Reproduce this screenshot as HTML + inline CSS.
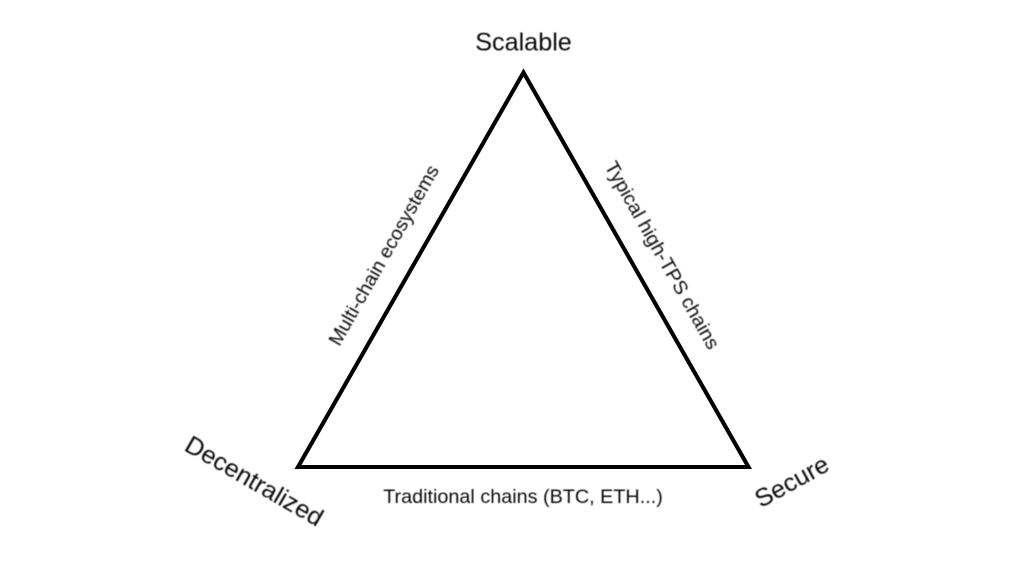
<!DOCTYPE html>
<html>
<head>
<meta charset="utf-8">
<style>
html,body{margin:0;padding:0;background:#fff;width:1024px;height:573px;overflow:hidden}
svg{display:block}
text{font-family:"Liberation Sans",Arial,sans-serif;fill:#0a0a0a;filter:blur(0.4px)}
</style>
</head>
<body>
<svg width="1024" height="573" viewBox="0 0 1024 573" xmlns="http://www.w3.org/2000/svg">
<polygon points="523.5,72.5 748.5,467 298,467" fill="#fff" stroke="#000" stroke-width="4.1" stroke-linejoin="miter" style="filter:blur(0.35px)"/>
<text x="523.5" y="50.5" font-size="25.2" text-anchor="middle">Scalable</text>
<text x="0" y="0" font-size="19.6" text-anchor="middle" transform="translate(389.5,258.5) rotate(-60.5)">Multi-chain ecosystems</text>
<text x="0" y="0" font-size="19.8" text-anchor="middle" transform="translate(656.5,258.5) rotate(60.5)">Typical high-TPS chains</text>
<text x="523" y="503" font-size="19.8" text-anchor="middle">Traditional chains (BTC, ETH...)</text>
<text x="0" y="0" font-size="25.3" text-anchor="middle" transform="translate(250,488.5) rotate(30)">Decentralized</text>
<text x="0" y="0" font-size="25.3" text-anchor="middle" transform="translate(796,489) rotate(-29)">Secure</text>
</svg>
</body>
</html>
